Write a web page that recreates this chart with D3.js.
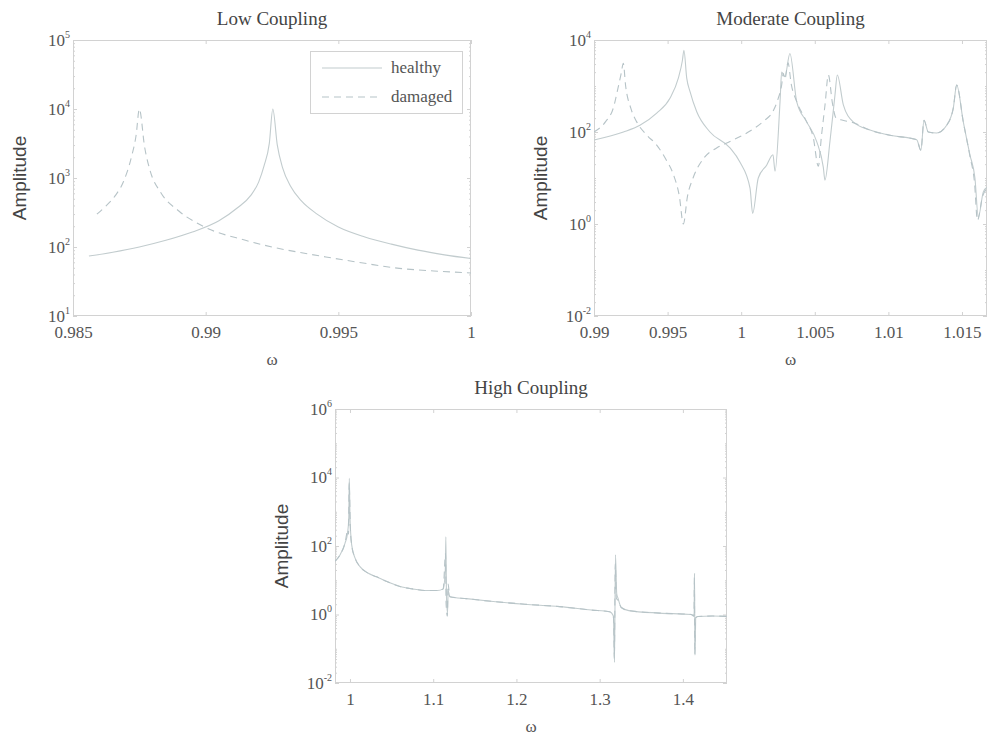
<!DOCTYPE html>
<html>
<head>
<meta charset="utf-8">
<script src="https://cdn.jsdelivr.net/npm/d3@7"></script>
<style>
  body { margin: 0; background: #fff; }
  svg { display: block; }
</style>
</head>
<body>
<script>
// ---- data: [omega, amplitude] ----
const lowHealthy = [
  [0.9856, 74], [0.9865, 84], [0.9875, 100], [0.9885, 125], [0.9895, 165], [0.9905, 240],
  [0.9912, 370], [0.9917, 560], [0.9920, 880], [0.9922, 1500], [0.9924, 3200], [0.99253, 10000],
  [0.9927, 3000], [0.9929, 1400], [0.9932, 760], [0.9936, 470], [0.9942, 300], [0.9950, 195],
  [0.9960, 140], [0.9970, 110], [0.9980, 90], [0.9990, 77], [1.0000, 68]
];
const lowDamaged = [
  [0.9859, 300], [0.9862, 380], [0.9866, 560], [0.9869, 880], [0.9872, 2000], [0.98738, 4200],
  [0.9875, 10000], [0.9877, 2800], [0.9879, 1300], [0.9883, 620], [0.9890, 330], [0.9899, 200],
  [0.9915, 125], [0.9925, 100], [0.9935, 84], [0.9948, 69], [0.9960, 58], [0.9973, 49],
  [0.9986, 45], [1.0000, 42]
];

const modHealthy = [
  [0.99, 67], [0.9920, 100], [0.99312, 140], [0.99426, 257], [0.99516, 540], [0.99573, 1480],
  [0.99600, 3500], [0.99611, 6000], [0.9963, 1480], [0.99652, 760], [0.99698, 275], [0.99788, 100],
  [0.99924, 45], [0.99992, 22], [1.0006, 6], [1.00078, 1.7], [1.00116, 10], [1.00173, 19],
  [1.00216, 32], [1.0023, 14], [1.00264, 460], [1.00275, 2000], [1.00297, 1600], [1.00331, 5100],
  [1.00377, 460], [1.00445, 166], [1.00513, 62], [1.00558, 17], [1.00569, 9], [1.00603, 62],
  [1.00637, 630], [1.00653, 1740], [1.00694, 390], [1.00761, 166], [1.00875, 110], [1.01011, 85],
  [1.01192, 68], [1.01221, 40], [1.01242, 180], [1.01271, 100], [1.01328, 95], [1.01396, 140],
  [1.01441, 330], [1.01464, 1050], [1.01509, 166], [1.01554, 32], [1.01588, 10], [1.01611, 1.4],
  [1.01645, 5], [1.0167, 6.3]
];
const modDamaged = [
  [0.99, 100], [0.9908, 170], [0.99131, 330], [0.99163, 900], [0.99185, 1900], [0.99199, 3100],
  [0.99215, 1000], [0.9925, 330], [0.9929, 166], [0.9936, 85], [0.99426, 52], [0.9949, 25],
  [0.99539, 12], [0.9958, 4], [0.99607, 1.0], [0.99635, 4], [0.99673, 10], [0.9975, 28],
  [0.99833, 45], [0.99924, 62], [1.0006, 105], [1.0015, 170], [1.00218, 290], [1.0025, 520],
  [1.00275, 1050], [1.00286, 1900], [1.00297, 1400], [1.00318, 3200], [1.0034, 1100], [1.00377, 460],
  [1.00445, 166], [1.0049, 75], [1.00524, 18], [1.00545, 80], [1.0057, 400], [1.00592, 1740],
  [1.0062, 420], [1.00645, 200], [1.0069, 180], [1.00761, 160], [1.00875, 110], [1.01011, 85],
  [1.01192, 68], [1.01221, 40], [1.01242, 180], [1.01271, 100], [1.01328, 95], [1.01396, 140],
  [1.01441, 330], [1.01464, 1050], [1.01509, 166], [1.01554, 30], [1.01585, 8], [1.01605, 1.2],
  [1.0164, 4], [1.0167, 6]
];

const highHealthy = [
  [0.982, 36], [0.988, 55], [0.994, 120], [0.997, 230], [0.9985, 600], [0.9992, 9500],
  [1.0, 700], [1.002, 110], [1.006, 45], [1.012, 25], [1.022, 16], [1.032, 12.6], [1.045, 9],
  [1.06, 6.6], [1.075, 5.6], [1.092, 5.0], [1.105, 5.0], [1.112, 5.6], [1.1145, 20], [1.1152, 186],
  [1.116, 3], [1.1172, 1.1], [1.118, 5], [1.12, 3.3], [1.14, 2.9], [1.172, 2.4], [1.21, 2.0],
  [1.252, 1.7], [1.29, 1.35], [1.312, 1.2], [1.3165, 0.9], [1.3178, 0.04], [1.319, 55],
  [1.3205, 4], [1.322, 3], [1.326, 1.6], [1.335, 1.3], [1.372, 1.1], [1.41, 1.0], [1.4135, 0.9],
  [1.414, 16], [1.4145, 0.065], [1.4155, 0.8], [1.418, 0.87], [1.435, 0.9], [1.453, 0.88]
];
const highDamaged = [
  [0.982, 36], [0.988, 55], [0.994, 120], [0.9975, 300], [0.9983, 220], [0.999, 7000],
  [1.0005, 300], [1.002, 110], [1.006, 45], [1.012, 25], [1.022, 16], [1.032, 12.6], [1.045, 9],
  [1.06, 6.6], [1.075, 5.6], [1.092, 5.0], [1.105, 5.0], [1.112, 5.6], [1.1148, 60], [1.1155, 2],
  [1.117, 0.9], [1.1178, 8], [1.12, 3.3], [1.14, 2.9], [1.172, 2.4], [1.21, 2.0], [1.252, 1.7],
  [1.29, 1.35], [1.312, 1.2], [1.3168, 0.8], [1.3176, 0.05], [1.3188, 30], [1.3200, 3],
  [1.322, 2.6], [1.326, 1.6], [1.335, 1.3], [1.372, 1.1], [1.41, 1.0], [1.4133, 0.9], [1.4138, 12],
  [1.4143, 0.07], [1.4152, 0.8], [1.418, 0.87], [1.435, 0.9], [1.453, 0.88]
];

const lowXTicks = [0.985, 0.99, 0.995, 1];
const modXTicks = [0.99, 0.995, 1, 1.005, 1.01, 1.015];
const highXTicks = [1, 1.1, 1.2, 1.3, 1.4];
const lowYExp = [1, 2, 3, 4, 5];
const modYExp = [-2, 0, 2, 4];
const highYExp = [-2, 0, 2, 4, 6];
const legendLabels = ['healthy', 'damaged'];

// ---- drawing ----
const AXIS = '#d2d2d2';
const TEXT = '#555';
const HEALTHY = '#c2ccce';
const DAMAGED = '#b6c3c7';
const DASH = '7,5';
const SERIF = '"Liberation Serif", "Times New Roman", serif';
const SANS = '"Liberation Sans", Arial, sans-serif';

const svg = d3.select('body').append('svg').attr('width', 988).attr('height', 737);

function minorTicks(lo, hi) {
  const out = [];
  for (let e = lo; e < hi; e++) {
    for (let m = 1; m <= 9; m++) {
      if (m === 1 && e === lo) continue;
      out.push(m * Math.pow(10, e));
    }
  }
  return out;
}

function drawPanel(p) {
  const x = d3.scaleLinear().domain(p.xDomain).range([p.left, p.right]);
  const y = d3.scaleLog().domain([Math.pow(10, p.yExp[0]), Math.pow(10, p.yExp[p.yExp.length - 1])])
    .range([p.bottom, p.top]);
  const g = svg.append('g');

  g.append('clipPath').attr('id', 'clip-' + p.id)
    .append('rect').attr('x', p.left).attr('y', p.top)
    .attr('width', p.right - p.left).attr('height', p.bottom - p.top);

  const majorVals = p.yExp.map(e => Math.pow(10, e));
  const minorVals = minorTicks(p.yExp[0], p.yExp[p.yExp.length - 1]).filter(v => !majorVals.includes(v));

  const styleAxis = sel => {
    sel.select('.domain').remove();
    sel.selectAll('line').attr('stroke', AXIS);
    sel.selectAll('text').attr('fill', TEXT).attr('font-family', SERIF).attr('font-size', 17);
  };

  // x axes
  g.append('g').attr('transform', `translate(0,${p.bottom})`)
    .call(d3.axisBottom(x).tickValues(p.xTicks).tickFormat(d => p.xFmt(d)).tickSize(-4).tickPadding(10))
    .call(styleAxis);
  g.append('g').attr('transform', `translate(0,${p.top})`)
    .call(d3.axisTop(x).tickValues(p.xTicks).tickFormat('').tickSize(-4))
    .call(styleAxis);

  // y axes (major + minor, both sides)
  const yl = g.append('g').attr('transform', `translate(${p.left},0)`)
    .call(d3.axisLeft(y).tickValues(majorVals).tickSize(-4).tickPadding(3))
    .call(styleAxis);
  yl.selectAll('text').each(function (d) {
    const t = d3.select(this).text(null).attr('dy', '0.3em');
    t.append('tspan').text('10');
    t.append('tspan').attr('font-size', 10).attr('dy', -8).text(Math.round(Math.log10(d)));
  });
  g.append('g').attr('transform', `translate(${p.right},0)`)
    .call(d3.axisRight(y).tickValues(majorVals).tickFormat('').tickSize(-4))
    .call(styleAxis);
  g.append('g').attr('transform', `translate(${p.left},0)`)
    .call(d3.axisLeft(y).tickValues(minorVals).tickFormat('').tickSize(-2))
    .call(styleAxis);
  g.append('g').attr('transform', `translate(${p.right},0)`)
    .call(d3.axisRight(y).tickValues(minorVals).tickFormat('').tickSize(-2))
    .call(styleAxis);

  // box
  g.append('rect')
    .attr('x', p.left + 0.5).attr('y', p.top + 0.5)
    .attr('width', p.right - p.left - 1).attr('height', p.bottom - p.top - 1)
    .attr('fill', 'none').attr('stroke', AXIS).attr('stroke-width', 1);

  const line = d3.line().x(d => x(d[0])).y(d => y(d[1])).curve(d3.curveMonotoneX);
  const plot = g.append('g').attr('clip-path', `url(#clip-${p.id})`);
  plot.append('path').datum(p.healthy).attr('d', line)
    .attr('fill', 'none').attr('stroke', HEALTHY).attr('stroke-width', 1.1);
  plot.append('path').datum(p.damaged).attr('d', line)
    .attr('fill', 'none').attr('stroke', DAMAGED).attr('stroke-width', 1.1)
    .attr('stroke-dasharray', DASH);

  // titles and labels
  g.append('text').attr('x', (p.left + p.right) / 2).attr('y', p.top - 15)
    .attr('text-anchor', 'middle').attr('font-family', SERIF).attr('font-size', 19)
    .attr('fill', '#444').text(p.title);
  g.append('text')
    .attr('transform', `translate(${p.left - 47},${(p.top + p.bottom) / 2}) rotate(-90)`)
    .attr('text-anchor', 'middle').attr('font-family', SANS).attr('font-size', 19)
    .attr('fill', '#444').text('Amplitude');
  g.append('text').attr('x', (p.left + p.right) / 2).attr('y', p.bottom + 49)
    .attr('text-anchor', 'middle').attr('font-family', SERIF).attr('font-size', 17)
    .attr('fill', TEXT).text('ω');

  if (p.legend) {
    const lg = g.append('g');
    lg.append('rect').attr('x', 310.5).attr('y', 51.5).attr('width', 152).attr('height', 62)
      .attr('fill', '#fff').attr('stroke', AXIS);
    legendLabels.forEach((lab, i) => {
      const ly = 68 + i * 29;
      lg.append('line').attr('x1', 322).attr('x2', 382).attr('y1', ly).attr('y2', ly)
        .attr('stroke', i ? DAMAGED : HEALTHY).attr('stroke-width', 1.1)
        .attr('stroke-dasharray', i ? DASH : null);
      lg.append('text').attr('x', 391).attr('y', ly + 5).attr('font-family', SERIF)
        .attr('font-size', 17).attr('fill', TEXT).text(lab);
    });
  }
}

const fmt = d => String(+d.toFixed(3));

drawPanel({
  id: 'low', title: 'Low Coupling', left: 73, right: 471, top: 40, bottom: 316,
  xDomain: [0.985, 1], xTicks: lowXTicks, xFmt: fmt, yExp: lowYExp,
  healthy: lowHealthy, damaged: lowDamaged, legend: true
});
drawPanel({
  id: 'mod', title: 'Moderate Coupling', left: 594, right: 987, top: 40, bottom: 316,
  xDomain: [0.99, 1.0167], xTicks: modXTicks, xFmt: fmt, yExp: modYExp,
  healthy: modHealthy, damaged: modDamaged
});
drawPanel({
  id: 'high', title: 'High Coupling', left: 335, right: 727, top: 409, bottom: 683,
  xDomain: [0.982, 1.453], xTicks: highXTicks, xFmt: fmt, yExp: highYExp,
  healthy: highHealthy, damaged: highDamaged
});
</script>
</body>
</html>
